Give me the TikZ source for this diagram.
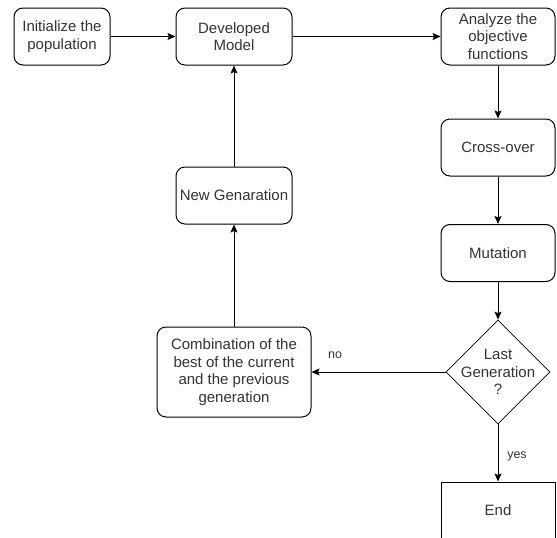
\documentclass[tikz,border=0pt]{standalone}
\usepackage{fontspec}
\setmainfont{Liberation Sans}
\usetikzlibrary{arrows.meta,shapes.geometric}
\tikzstyle{block}=[draw,rounded corners=9pt,line width=1pt,align=center,
  minimum height=57pt,inner sep=2pt,text=black!80,font=\fontsize{15}{17.5}\selectfont]
\tikzstyle{decision}=[draw,diamond,line width=0.8pt,align=center,inner sep=-6pt,
  minimum width=104pt,minimum height=104pt,text=black!80,font=\fontsize{15}{17.5}\selectfont]
\tikzstyle{flow}=[-{Stealth[length=8pt,width=7pt,inset=1.5pt]},line width=1pt]
\tikzstyle{tag}=[text=black!80,font=\fontsize{12.5}{14}\selectfont]

\begin{document}
\begin{tikzpicture}[x=1pt,y=-1pt]
\useasboundingbox (0,0) rectangle (557,538);

\node[block,minimum width=96pt] (init) at (62,36.5) {Initialize the\\population};
\node[block,minimum width=116pt] (model) at (234,36.5) {Developed\\Model};
\node[block,minimum width=114pt] (analyze) at (498,36.5) {Analyze the\\objective\\functions};
\node[block,minimum width=114pt] (cross) at (498,147.5) {Cross-over};
\node[block,minimum width=114pt] (mut) at (498,253) {Mutation};
\node[decision] (last) at (498,372) {Last\\Generation\\?};
\node[block,rounded corners=0pt,minimum width=114pt] (end) at (498,510.5) {End};
\node[block,minimum width=154pt,minimum height=90pt] (comb) at (234,372)
  {Combination of the\\best of the current\\and the previous\\generation};
\node[block,minimum width=116pt] (newgen) at (234,195.5) {New Genaration};

\draw[flow] (init) -- (model);
\draw[flow] (model) -- (analyze);
\draw[flow] (analyze) -- (cross);
\draw[flow] (cross) -- (mut);
\draw[flow] (mut) -- (last);
\draw[flow] (last) -- (end);
\draw[flow] (last) -- (comb);
\draw[flow] (comb) -- (newgen);
\draw[flow] (newgen) -- (model);

\node[tag] (no) at (335,355) {no};
\node[tag] (yes) at (517,456) {yes};

\end{tikzpicture}
\end{document}
